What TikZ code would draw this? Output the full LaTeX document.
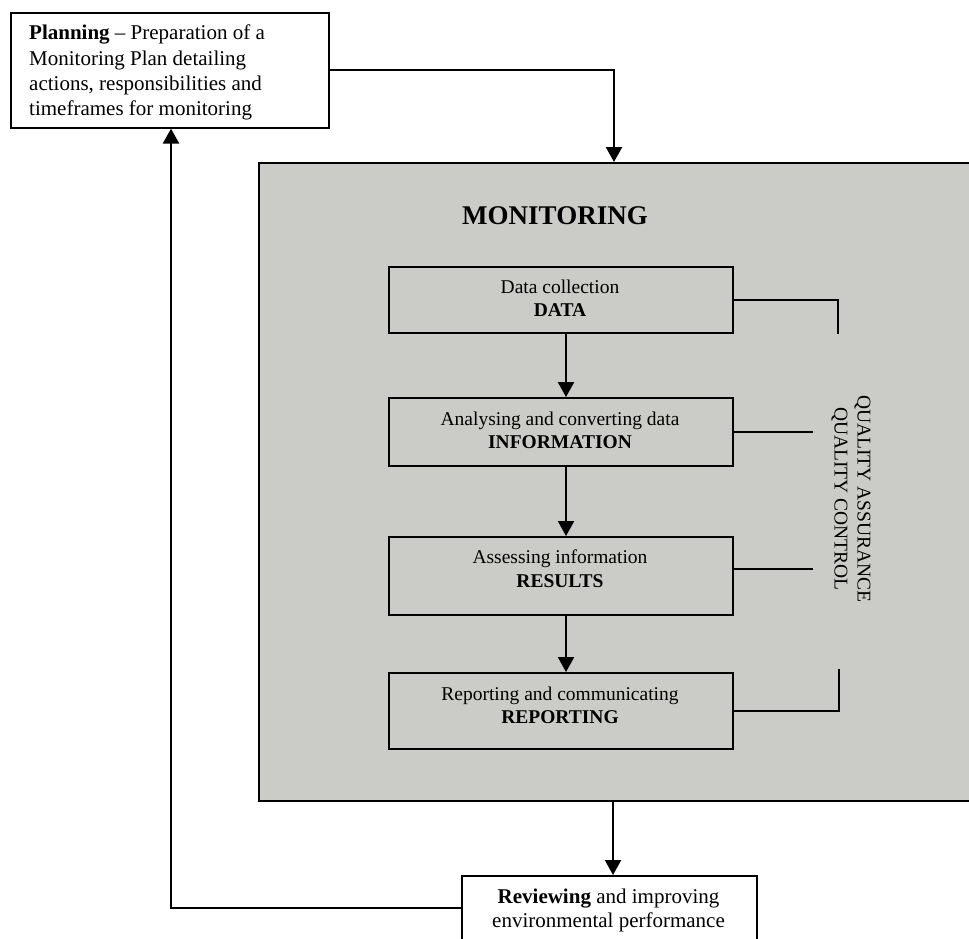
\documentclass[tikz,border=0pt]{standalone}
\usepackage{fontspec}
\setmainfont{Liberation Serif}
\usetikzlibrary{arrows.meta}
\definecolor{panelgrey}{RGB}{203,203,199}
\begin{document}
\begin{tikzpicture}[x=1pt,y=-1pt,
  boxnode/.style={draw=black, line width=1.6pt, inner sep=0pt, anchor=north west},
  arr/.style={line width=2.2pt, -{Triangle[length=15pt,width=16pt]}},
  qaline/.style={line width=1.6pt},
  innertext/.style={anchor=north, inner sep=0pt, align=center, font=\fontsize{19.5}{23.5}\selectfont},
  bigtext/.style={inner sep=0pt, align=center, font=\fontsize{21}{23.5}\selectfont}]
\useasboundingbox (0,0) rectangle (969,938);
\clip (0,0) rectangle (969,938);
\fill[white] (0,0) rectangle (969,938);
% main grey panel
\node[boxnode, fill=panelgrey, minimum width=730pt, minimum height=638pt] (panel) at (258,162) {};
% planning box
\node[boxnode, fill=white, minimum width=318pt, minimum height=115pt] (plan) at (10,12) {};
\node[anchor=north west, inner sep=0pt, align=left, font=\fontsize{21}{25.3}\selectfont] (plantext) at (29,25)
  {\textbf{Planning} -- Preparation of a\\Monitoring Plan detailing\\actions, responsibilities and\\timeframes for monitoring};
% title
\node[anchor=base, inner sep=0pt, font=\fontsize{27}{30}\selectfont\bfseries] (title) at (555,224) {MONITORING};
% inner boxes
\node[boxnode, minimum width=344pt, minimum height=66pt] (b1) at (388,266) {};
\node[boxnode, minimum width=344pt, minimum height=68pt] (b2) at (388,397) {};
\node[boxnode, minimum width=344pt, minimum height=78pt] (b3) at (388,536) {};
\node[boxnode, minimum width=344pt, minimum height=76pt] (b4) at (388,672) {};
\node[innertext] (t1) at (560,279.7) {Data collection\\\textbf{DATA}};
\node[innertext] (t2) at (560,411.7) {Analysing and converting data\\\textbf{INFORMATION}};
\node[innertext] (t3) at (560,549.7) {Assessing information\\\textbf{RESULTS}};
\node[innertext] (t4) at (560,686.7) {Reporting and communicating\\\textbf{REPORTING}};
% arrows between boxes
\coordinate (ax) at (566,0);
\draw[arr] (b1.south -| ax) -- (b2.north -| ax);
\draw[arr] (b2.south -| ax) -- (b3.north -| ax);
\draw[arr] (b3.south -| ax) -- (b4.north -| ax);
% quality bracket
\coordinate (q1) at (838,334);
\coordinate (q2) at (813,431);
\coordinate (q3) at (813,569);
\coordinate (q4) at (839,669);
\draw[qaline] (b1.east) -| (q1);
\draw[qaline] (b2.east) -- (b2.east -| q2);
\draw[qaline] (b3.east |- q3) -- (q3);
\draw[qaline] (b4.east) -| (q4);
\node[rotate=-90, inner sep=0pt, align=center, font=\fontsize{19.5}{23}\selectfont] (qa) at (851,499)
  {QUALITY ASSURANCE\\QUALITY CONTROL};
% reviewing box
\node[boxnode, fill=white, minimum width=295pt, minimum height=95pt] (rev) at (461,875) {};
\node[bigtext, anchor=north] (revtext) at (608.5,889) {\textbf{Reviewing} and improving\\environmental performance};
% connectors
\coordinate (intop) at (614,162);
\draw[arr] (plan.east) -| (intop);
\coordinate (outbot) at (613,800);
\draw[arr] (outbot) -- (rev.north -| outbot);
\coordinate (fb) at (461,908);
\coordinate (fbup) at (171,0);
\draw[arr] (fb) -| (plan.south -| fbup);
\end{tikzpicture}
\end{document}
